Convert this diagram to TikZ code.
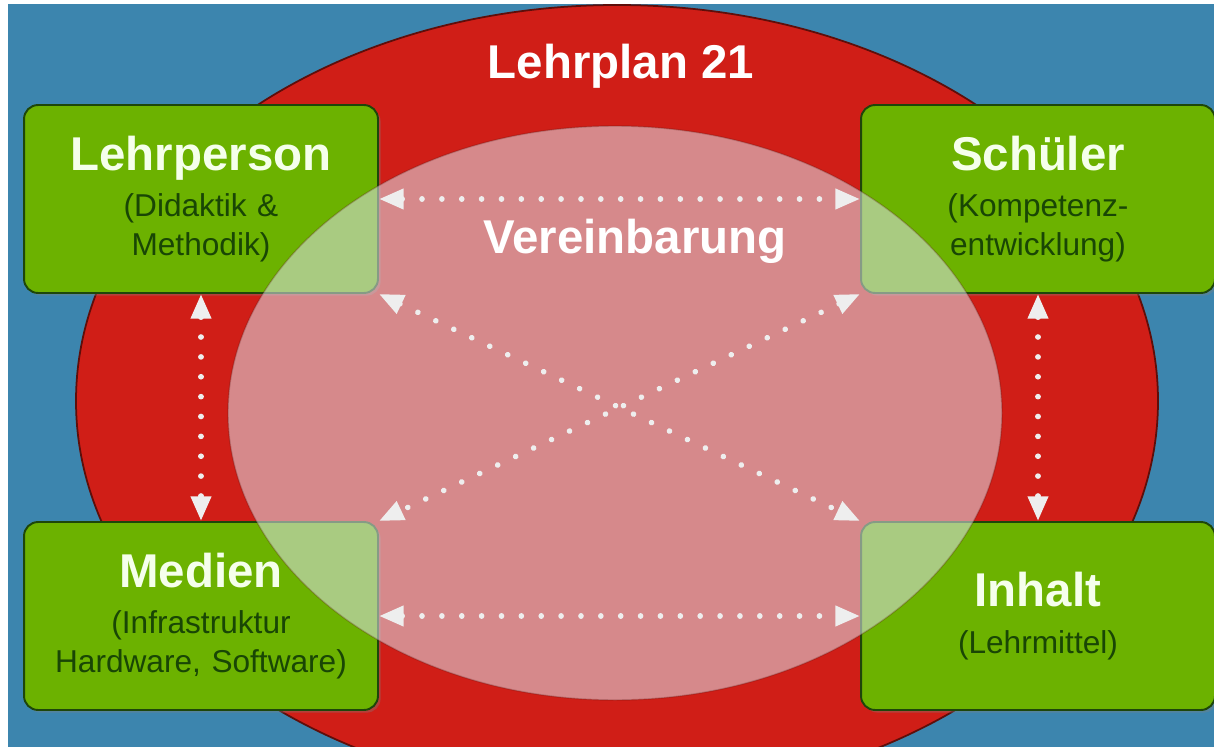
\documentclass[tikz,border=0pt]{standalone}
\usepackage{fontspec}
\setmainfont{Liberation Sans}
\usetikzlibrary{arrows.meta,shadows}

\definecolor{bgblue}{RGB}{60,133,174}
\definecolor{planred}{RGB}{208,30,23}
\definecolor{boxgreen}{RGB}{108,178,0}
\definecolor{boxline}{RGB}{30,70,10}
\definecolor{subgreen}{RGB}{25,70,5}
\definecolor{titlewhite}{RGB}{245,255,235}
\definecolor{veil}{RGB}{220,225,235}
\definecolor{dotgray}{RGB}{238,238,238}

\newcommand{\boxtitle}[1]{{\fontsize{27}{22}\selectfont\bfseries\color{titlewhite}#1}\\[4.5pt]}

\begin{document}
\begin{tikzpicture}[x=0.02cm,y=-0.02cm,
    partbox/.style={draw=boxline,line width=1.1pt,fill=boxgreen,rounded corners=8pt,
      minimum width=7.08cm,minimum height=3.76cm,inner sep=0pt,text width=6.9cm,
      align=center,text=subgreen,font=\fontsize{18}{22}\selectfont,
      drop shadow={opacity=0.35,shadow xshift=1.5pt,shadow yshift=-1.5pt}},
    link/.style={draw=dotgray,line width=3.2pt,line cap=round,dash pattern=on 0.01pt off 11.3pt,
      {Triangle[width=11pt,length=14pt]}-{Triangle[width=11pt,length=14pt]}},
    bigtext/.style={text=white,font=\fontsize{27}{32}\selectfont\bfseries}]
    \useasboundingbox (0,0) rectangle (1214,747);
    \fill[white] (0,0) rectangle (1214,747);
    \fill[bgblue] (8,4) rectangle (1214,747);
    \begin{scope}
        \clip (8,4) rectangle (1214,747);
        \filldraw[fill=planred,draw=planred!45!black,line width=1pt] (617,401) ellipse [x radius=541,y radius=396];
    \end{scope}
    \node[bigtext,anchor=base] (plan) at (621,78) {Lehrplan 21};
    \node[partbox] (lehrperson) at (201,199) {\boxtitle{Lehrperson}(Didaktik \&\\Methodik)};
    \node[partbox] (schueler) at (1038,199) {\boxtitle{Schüler}(Kompetenz-\\entwicklung)};
    \node[partbox] (medien) at (201,616) {\boxtitle{Medien}(Infrastruktur\\Hardware, Software)};
    \node[partbox] (inhalt) at (1038,616) {\boxtitle{Inhalt}(Lehrmittel)};
    \filldraw[fill=veil,fill opacity=0.55,draw=planred!40!black,draw opacity=0.25,line width=0.8pt] (615,413) ellipse [x radius=387,y radius=287];
    \node[bigtext,anchor=base] (verein) at (635,253) {Vereinbarung};
    \draw[link] (lehrperson.east) -- (schueler.west);
    \draw[link] (medien.east) -- (inhalt.west);
    \draw[link] (lehrperson.south) -- (medien.north);
    \draw[link] (schueler.south) -- (inhalt.north);
    \draw[link] (lehrperson.south east) -- (inhalt.north west);
    \draw[link] (schueler.south west) -- (medien.north east);
\end{tikzpicture}
\end{document}
